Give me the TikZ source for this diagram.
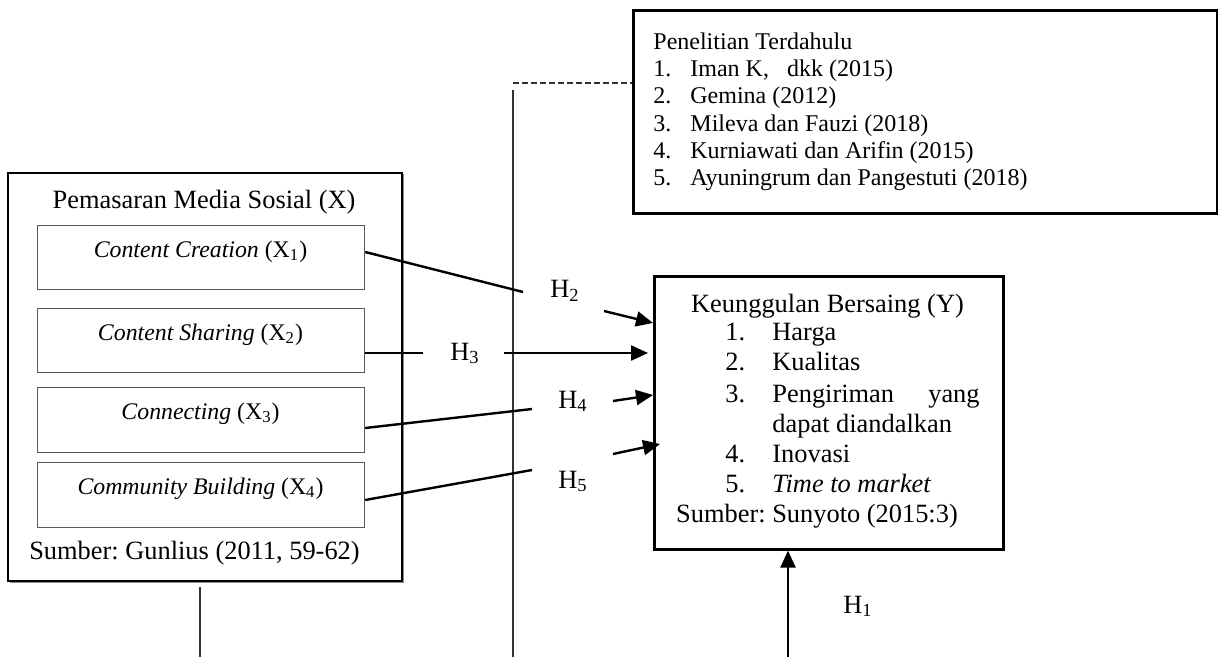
\documentclass[tikz,border=0pt]{standalone}
\usepackage{fontspec}
\setmainfont{Liberation Serif}
\usetikzlibrary{arrows.meta}
\frenchspacing
\newcommand{\mainsz}{\fontsize{13.2pt}{15pt}\selectfont}
\newcommand{\boxsz}{\fontsize{11.9pt}{14pt}\selectfont}
\newcommand{\topsz}{\fontsize{12pt}{14pt}\selectfont}
\tikzset{
  frame/.style={draw=black, line width=1.3pt, fill=white, inner sep=0pt, anchor=north west},
  subbox/.style={draw=black!65, line width=0.6pt, fill=white, inner sep=0pt, anchor=north west},
  txt/.style={inner sep=0pt, anchor=base west, font=\mainsz},
  ctxt/.style={inner sep=0pt, anchor=base, font=\mainsz},
  ttxt/.style={inner sep=0pt, anchor=base west, font=\topsz},
  conn/.style={line width=1.2pt},
  arr/.style={line width=1.2pt, -{Triangle[length=8.5pt,width=7.5pt]}},
  thinline/.style={line width=0.6pt, draw=black!80},
}
\begin{document}
\begin{tikzpicture}[x=0.5pt,y=-0.5pt]
\useasboundingbox (0,0) rectangle (1218,657);

% ---------- left outer box ----------
\fill[black!45] (9.5,174.5) rectangle (403.5,582.5);
\node[frame, line width=0.9pt, minimum width=197pt, minimum height=204pt] (outer) at (7,172) {};
\node[ctxt] (xtitle) at (204,209) {Pemasaran Media Sosial (X)};
\node[subbox, minimum width=163.5pt, minimum height=32pt] (b1) at (37,225) {};
\node[subbox, minimum width=163.5pt, minimum height=32pt] (b2) at (37,308) {};
\node[subbox, minimum width=163.5pt, minimum height=32.5pt] (b3) at (37,387) {};
\node[subbox, minimum width=163.5pt, minimum height=32.5pt] (b4) at (37,462) {};
\node[ctxt, font=\boxsz] (t1) at (200.5,257) {\textit{Content Creation} (X\textsubscript{1})};
\node[ctxt, font=\boxsz] (t2) at (200.5,340) {\textit{Content Sharing} (X\textsubscript{2})};
\node[ctxt, font=\boxsz] (t3) at (200.5,419) {\textit{Connecting} (X\textsubscript{3})};
\node[ctxt, font=\boxsz] (t4) at (200.5,494) {\textit{Community Building} (X\textsubscript{4})};
\node[ctxt] (xsrc) at (194.5,559) {Sumber: Gunlius (2011, 59-62)};

% ---------- top box ----------
\node[frame, line width=1.6pt, minimum width=292pt, minimum height=101.5pt] (prev) at (632,9) {};
\node[ttxt] (ptitle) at (653,50) {Penelitian Terdahulu};
\node[ttxt] (pn1) at (653,77) {1.};
\node[ttxt] (pi1) at (690,77) {Iman K,\ \ \ dkk (2015)};
\node[ttxt] (pn2) at (653,104) {2.};
\node[ttxt] (pi2) at (690,104) {Gemina (2012)};
\node[ttxt] (pn3) at (653,132) {3.};
\node[ttxt] (pi3) at (690,132) {Mileva dan Fauzi (2018)};
\node[ttxt] (pn4) at (653,159) {4.};
\node[ttxt] (pi4) at (690,159) {Kurniawati dan Arifin (2015)};
\node[ttxt] (pn5) at (653,186) {5.};
\node[ttxt] (pi5) at (690,186) {Ayuningrum dan Pangestuti (2018)};

% ---------- right box ----------
\node[frame, minimum width=174.5pt, minimum height=136.5pt] (Y) at (653,275) {};
\node[ctxt] (ytitle) at (827.5,312) {Keunggulan Bersaing (Y)};
\node[txt] (yn1) at (725,340) {1.};
\node[txt] (yi1) at (772,340) {Harga};
\node[txt] (yn2) at (725,370) {2.};
\node[txt] (yi2) at (772,370) {Kualitas};
\node[txt] (yn3) at (725,402) {3.};
\node[txt] (yi3) at (772,402) {Pengiriman};
\node[txt, anchor=base east] (yi3b) at (980,402) {yang};
\node[txt] (yi3c) at (772,432) {dapat diandalkan};
\node[txt] (yn4) at (725,462) {4.};
\node[txt] (yi4) at (772,462) {Inovasi};
\node[txt] (yn5) at (725,492) {5.};
\node[txt] (yi5) at (772,492) {\textit{Time to market}};
\node[ctxt] (ysrc) at (817,522) {Sumber: Sunyoto (2015:3)};

% ---------- hypothesis labels ----------
\node[txt] (H1) at (843,613) {H\textsubscript{1}};
\node[txt] (H2) at (550,298) {H\textsubscript{2}};
\node[txt] (H3) at (450,360) {H\textsubscript{3}};
\node[txt] (H4) at (558,408) {H\textsubscript{4}};
\node[txt] (H5) at (558,488) {H\textsubscript{5}};

% ---------- coordinates ----------
\coordinate (e2) at (523,292);
\coordinate (s2) at (604,311);
\coordinate (e3) at (423,353);
\coordinate (s3) at (504,353);
\coordinate (t3) at (648,353);
\coordinate (e4) at (532,409);
\coordinate (s4) at (613,401);
\coordinate (e5) at (532,470);
\coordinate (s5) at (613,454);
\coordinate (t5) at (660,444);
\coordinate (s1) at (788,657);
\coordinate (vl) at (200,587);
\coordinate (vlb) at (200,657);
\coordinate (vm) at (513,90);
\coordinate (vmb) at (513,657);
\coordinate (dl) at (513,83);

% ---------- background lines ----------
\draw[thinline] (vl) -- (vlb);
\draw[thinline] (vm) -- (vmb);
\draw[thinline, dash pattern=on 3pt off 1.5pt] (dl) -- (prev.west |- dl);

% ---------- connectors ----------
\draw[conn] (b1.east |- 0,252) -- (e2);
\draw[arr] (s2) -- (Y.west |- 0,323);
\draw[conn] (b2.east |- 0,353) -- (e3);
\draw[arr] (s3) -- (t3);
\draw[conn] (b3.east |- 0,428) -- (e4);
\draw[arr] (s4) -- (Y.west |- 0,395);
\draw[conn] (b4.east |- 0,500) -- (e5);
\draw[arr] (s5) -- (t5);
\draw[arr] (s1) -- (Y.south -| s1);
\end{tikzpicture}
\end{document}
